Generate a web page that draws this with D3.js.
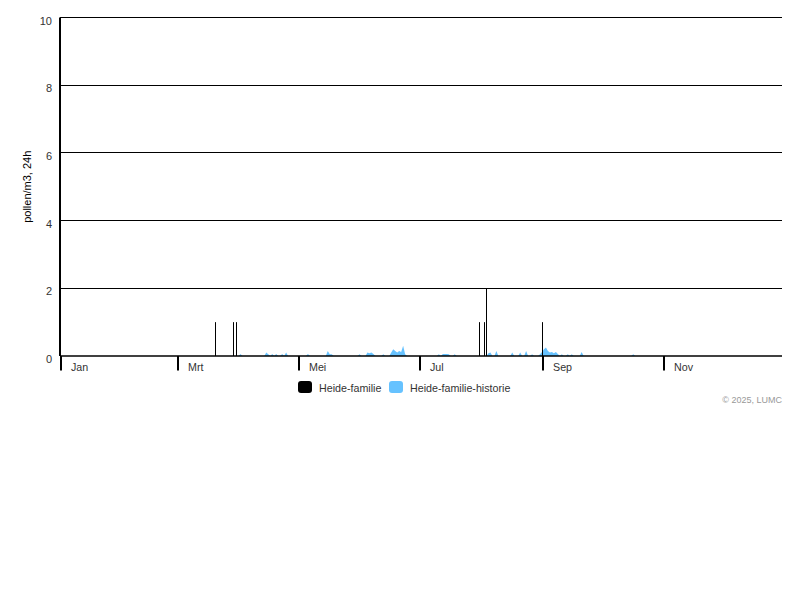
<!DOCTYPE html>
<html>
<head>
<meta charset="utf-8">
<script src="https://cdn.jsdelivr.net/npm/d3@7"></script>
<style>
  html, body { margin: 0; padding: 0; background: #fff; }
  svg { display: block; font-family: "Liberation Sans", Arial, sans-serif; }
</style>
</head>
<body>
<svg id="chart" width="800" height="600"></svg>
<script>
// ---- data ----
const year = 2025;
const yTicks = [0, 2, 4, 6, 8, 10];
const monthTicks = [0, 2, 4, 6, 8, 10]; // month indices for ticks
const monthLabels = ["Jan", "Mrt", "Mei", "Jul", "Sep", "Nov"];
const seriesNames = ["Heide-familie", "Heide-familie-historie"];
// current-year counts: day of year (0 = 1 Jan) and value
const currentDays = [78, 87, 88.5, 211, 214, 215, 243];
const currentValues = [1, 1, 1, 1, 1, 2, 1];
// historical mean, non-zero days: day of year and value
const histDays = [91, 104, 105, 107, 109, 112, 114, 125, 135, 136, 137, 151, 155, 156, 157, 158, 163,
  167, 168, 169, 170, 171, 172, 173, 174, 191, 193, 194, 195, 196, 199, 216, 217, 220, 228, 232, 235,
  238, 242, 243, 244, 245, 246, 247, 248, 249, 250, 251, 253, 256, 258, 263, 289];
const histValues = [0.06, 0.1, 0.05, 0.06, 0.06, 0.06, 0.1, 0.06, 0.15, 0.05, 0.05, 0.05, 0.1, 0.08, 0.1, 0.06, 0.05,
  0.1, 0.2, 0.15, 0.1, 0.15, 0.12, 0.3, 0.05, 0.05, 0.06, 0.06, 0.06, 0.05, 0.05, 0.08, 0.1, 0.15, 0.1, 0.1, 0.15,
  0.05, 0.05, 0.12, 0.2, 0.25, 0.15, 0.1, 0.12, 0.08, 0.12, 0.06, 0.05, 0.05, 0.05, 0.12, 0.05];

// ---- build ----
const colors = ["#000000", "#66c2ff"];
const dayDate = d => new Date(new Date(year, 0, 1).getTime() + d * 864e5);
const histMap = new Map(histDays.map((d, i) => [d, histValues[i]]));
const histSeries = d3.range(365).map(d => ({ date: dayDate(d), v: histMap.get(d) || 0 }));

const svg = d3.select("#chart");
const pLeft = 60, pRight = 782, pTop = 17.5, pBottom = 356;

const x = d3.scaleTime().domain([new Date(year, 0, 1), new Date(year, 11, 31)]).range([pLeft, pRight]);
const y = d3.scaleLinear().domain([0, 10]).range([pBottom, pTop]);

// gridlines
svg.append("g").selectAll("line").data(yTicks.filter(t => t > 0)).join("line")
  .attr("x1", pLeft).attr("x2", pRight)
  .attr("y1", d => y(d)).attr("y2", d => y(d))
  .attr("stroke", "#000").attr("stroke-width", 1).attr("shape-rendering", "crispEdges");

// y tick labels
svg.append("g").selectAll("text").data(yTicks).join("text")
  .attr("x", 52).attr("y", d => y(d) + 7)
  .attr("text-anchor", "end").attr("font-size", 11).attr("fill", "#333")
  .text(d => d);

// y title
svg.append("text")
  .attr("transform", `translate(31, ${(pTop + pBottom) / 2}) rotate(-90)`)
  .attr("text-anchor", "middle").attr("font-size", 11).attr("fill", "#000")
  .text("pollen/m3, 24h");

// history area
const area = d3.area().x(d => x(d.date)).y0(y(0)).y1(d => y(d.v));
svg.append("path").datum(histSeries)
  .attr("d", area).attr("fill", colors[1]);

// current bars (thin lines)
svg.append("g").selectAll("line").data(currentDays.map((d, i) => ({ date: dayDate(d), v: currentValues[i] }))).join("line")
  .attr("x1", d => Math.round(x(d.date)) + 0.5).attr("x2", d => Math.round(x(d.date)) + 0.5)
  .attr("y1", y(0)).attr("y2", d => y(d.v))
  .attr("stroke", colors[0]).attr("stroke-width", 1);

// axes lines
svg.append("line").attr("x1", pLeft).attr("x2", pLeft).attr("y1", pTop).attr("y2", pBottom)
  .attr("stroke", "#000").attr("stroke-width", 2);
svg.append("line").attr("x1", pLeft).attr("x2", pRight).attr("y1", pBottom).attr("y2", pBottom)
  .attr("stroke", "#000").attr("stroke-width", 1.5);

// month ticks
const mt = monthTicks.map((m, i) => ({ date: new Date(year, m, 1), label: monthLabels[i] }));
const tg = svg.append("g").selectAll("g").data(mt).join("g")
  .attr("transform", d => `translate(${Math.round(x(d.date))},0)`);
tg.append("line").attr("x1", 1).attr("x2", 1).attr("y1", pBottom).attr("y2", 370.5)
  .attr("stroke", "#000").attr("stroke-width", 2);
tg.append("text").attr("x", 11).attr("y", 371)
  .attr("font-size", 10.7).attr("fill", "#333").text(d => d.label);

// legend
const legendX = [298, 389];
const lg = svg.append("g").selectAll("g").data(seriesNames).join("g")
  .attr("transform", (d, i) => `translate(${legendX[i]}, 381)`);
lg.append("rect").attr("width", 14).attr("height", 12).attr("rx", 3)
  .attr("fill", (d, i) => colors[i]);
lg.append("text").attr("x", 21).attr("y", 10.5).attr("font-size", 10.7).attr("fill", "#333").text(d => d);

// credit
svg.append("text").attr("x", 782).attr("y", 403).attr("text-anchor", "end")
  .attr("font-size", 9).attr("fill", "#999").text("© 2025, LUMC");
</script>
</body>
</html>
